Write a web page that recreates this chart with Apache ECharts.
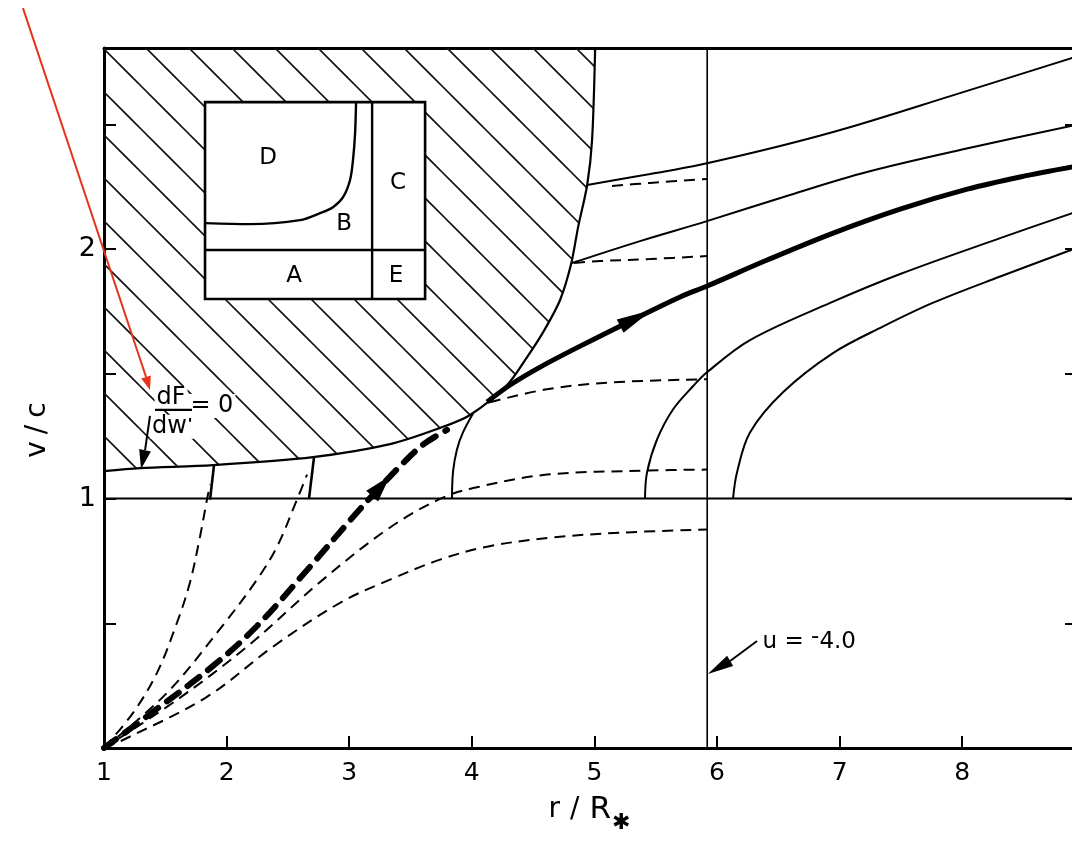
<!DOCTYPE html>
<html><head><meta charset="utf-8">
<script src="https://cdn.jsdelivr.net/npm/echarts@6.0.0/dist/echarts.min.js"></script>
<style>html,body{margin:0;padding:0;background:#fff}#c{width:1072px;height:844px}</style>
</head><body><div id="c"></div>
<script>
const FF = "'DejaVu Sans', 'Liberation Sans', sans-serif";
const INK = '#000';
const RED = '#e8331c';

// ---- axis ticks / labels ----
const xTickLabels = [1, 2, 3, 4, 5, 6, 7, 8];
const yTickLabels = [1, 2];

// ---- curves (x = r/R*, y = v/c) ----
const boundary = [[1.000,1.110],[1.294,1.122],[1.889,1.134],[2.705,1.166],[3.333,1.218],[3.741,1.283],[3.986,1.335],[4.288,1.455],[4.451,1.567],[4.582,1.667],[4.720,1.796],[4.810,1.940],[4.867,2.088],[4.941,2.257],[4.981,2.437],[5.006,2.806]];
const hLine = [[1,1],[8.92,1]];
const vLine = [[5.92,0],[5.92,2.806]];
const dashA = [[1,0],[1.237,0.141],[1.432,0.301],[1.595,0.502],[1.701,0.663],[1.783,0.847],[1.840,0.996],[1.865,1.056]];
const solidA = [[1.865,0.996],[1.897,1.133]];
const dashB = [[1,0],[1.514,0.221],[1.971,0.493],[2.248,0.675],[2.411,0.807],[2.574,0.996],[2.656,1.096]];
const solidB = [[2.672,1.0],[2.713,1.165]];
const thickDash = [[1,0],[1.375,0.136],[1.889,0.329],[2.248,0.489],[2.656,0.713],[3.031,0.926],[3.252,1.046],[3.456,1.150],[3.619,1.222],[3.798,1.275]];
const midDash = [[1,0],[1.595,0.193],[2.166,0.406],[2.786,0.675],[3.333,0.884],[3.765,1.004],[4.067,1.048],[4.613,1.096],[5.429,1.112],[5.918,1.116]];
const lowDash = [[1,0],[1.155,0.032],[1.840,0.205],[2.378,0.406],[2.925,0.582],[3.333,0.675],[3.741,0.755],[4.124,0.807],[4.638,0.843],[5.209,0.863],[5.918,0.876]];
const dash380 = [[4.148,1.386],[4.613,1.438],[5.152,1.466],[5.918,1.478]];
const dash260 = [[4.834,1.944],[5.046,1.952],[5.453,1.960],[5.918,1.972]];
const dash182 = [[5.144,2.253],[5.453,2.265],[5.918,2.281]];
const solidTop = [[4.941,2.257],[5.455,2.301],[5.862,2.338],[6.515,2.413],[7.062,2.485],[7.903,2.613],[8.92,2.770]];
const solidSecond = [[4.817,1.944],[5.372,2.032],[5.918,2.112],[6.595,2.217],[7.223,2.309],[8.064,2.406],[8.92,2.497]];
const thickSolid = [[4.125,1.387],[4.312,1.455],[4.557,1.527],[4.884,1.611],[5.308,1.715],[5.699,1.808],[5.920,1.852],[6.409,1.956],[6.948,2.064],[7.494,2.160],[8.041,2.240],[8.473,2.289],[8.92,2.331]];
const arcC = [[3.838,1.0],[3.847,1.108],[3.879,1.197],[3.928,1.265],[4.010,1.341]];
const arc5 = [[5.413,1.0],[5.429,1.104],[5.511,1.237],[5.641,1.357],[5.804,1.450],[5.918,1.506],[6.269,1.635],[6.923,1.784],[7.494,1.900],[8.310,2.044],[8.92,2.148]];
const arc6 = [[6.131,1.0],[6.163,1.104],[6.269,1.265],[6.538,1.426],[6.946,1.583],[7.356,1.690],[7.764,1.785],[8.310,1.890],[8.92,2.002]];

// ---- inset diagram ----
const insetBox = [[1.824,1.800,3.619,2.589]];
const insetDivV = [[3.187,1.800],[3.187,2.589]];
const insetDivH = [[1.824,1.996],[3.619,1.996]];
const insetCurve = [[1.824,2.104],[2.191,2.100],[2.599,2.116],[2.762,2.144],[2.868,2.168],[2.950,2.208],[3.007,2.277],[3.031,2.357],[3.048,2.465],[3.056,2.589]];
const insetLabels = [['D',2.338,2.365],['B',2.958,2.100],['C',3.399,2.265],['A',2.550,1.892],['E',3.382,1.892]];

// ---- annotations ----
const dfTexts = [["dF",1.547,1.403],["dw'",1.560,1.288],["= 0",1.880,1.371]];
const dfBar = [[1.416,1.355],[1.718,1.355]];
const dfShaft = [[1.375,1.331],[1.335,1.194]];
const uText = ['u = -4.0', 6.368, 0.425];
const uShaft = [[6.327,0.429],[6.107,0.349]];
const redShaft = [[0.339,2.966],[1.343,1.487]];
// arrowheads: tail point, tip point, width(px)
const arrowHeads = [
  {tail:[5.210,1.691], tip:[5.471,1.756], w:15, color:INK},
  {tail:[3.187,1.010], tip:[3.333,1.090], w:16, color:INK},
  {tail:[1.335,1.194], tip:[1.302,1.118], w:12, color:INK},
  {tail:[6.107,0.349], tip:[5.925,0.297], w:12, color:INK},
  {tail:[1.343,1.487], tip:[1.375,1.435], w:10, color:RED}
];

function hatchCanvas(s, c0, lw) {
  const cv = document.createElement('canvas');
  cv.width = s; cv.height = s;
  const g = cv.getContext('2d');
  g.strokeStyle = '#111'; g.lineWidth = lw;
  for (let k = -3; k <= 3; k++) {
    g.beginPath();
    g.moveTo(-s, -s + c0 + k * s);
    g.lineTo(2 * s, 2 * s + c0 + k * s);
    g.stroke();
  }
  return cv;
}

function line(id, data, width, type, extra) {
  const base = {
    id, type: 'line', data, symbol: 'none', showSymbol: false, smooth: 0.35,
    lineStyle: {color: INK, width, type: type || 'solid', cap: 'butt'},
    z: 3, silent: true, animation: false
  };
  return Object.assign(base, extra || {});
}

function textSeries(id, items, label) {
  return {id, type: 'scatter', z: 7, silent: true, animation: false,
    symbolSize: 1, itemStyle: {color: 'transparent', opacity: 1},
    data: items.map(l => ({name: l[0], value: [l[1], l[2]]})),
    label: Object.assign({show: true, opacity: 1, fontFamily: FF, color: INK}, label)};
}

const chart = echarts.init(document.getElementById('c'), null, {renderer: 'canvas'});

const option = {
  backgroundColor: '#fff',
  animation: false,
  grid: {left: 104, top: 48, width: 971, height: 700, containLabel: false, outerBoundsMode: 'none'},
  xAxis: [
    {type: 'value', min: 1, max: 8.92, interval: 1, position: 'bottom',
     axisLine: {show: true, onZero: false, lineStyle: {color: INK, width: 3}},
     axisTick: {show: true, inside: true, length: 12, lineStyle: {color: INK, width: 2}},
     axisLabel: {fontSize: 25, margin: 13, fontFamily: FF, color: INK,
       formatter: v => xTickLabels.includes(v) ? String(v) : ''},
     splitLine: {show: false},
     name: '{a|r}{b|/}{c|R}{s|✱}', nameLocation: 'middle', nameGap: 38,
     nameTextStyle: {fontFamily: FF, color: INK, fontSize: 28,
       rich: {a: {fontFamily: FF, fontSize: 28, color: INK},
              b: {fontFamily: FF, fontSize: 28, color: INK, padding: [0, 10, 0, 10]},
              c: {fontFamily: FF, fontSize: 31, color: INK},
              s: {fontFamily: FF, fontSize: 22, color: INK, fontWeight: 'bold', padding: [26, 0, 0, 1]}}}},
    {type: 'value', min: 1, max: 8.92, position: 'top',
     axisLine: {show: true, onZero: false, lineStyle: {color: INK, width: 3}},
     axisTick: {show: false}, axisLabel: {show: false}, splitLine: {show: false}}
  ],
  yAxis: [
    {type: 'value', min: 0, max: 2.806, interval: 0.5, position: 'left',
     axisLine: {show: true, onZero: false, lineStyle: {color: INK, width: 3}},
     axisTick: {show: true, inside: true, length: 12, lineStyle: {color: INK, width: 2}},
     axisLabel: {fontSize: 27, margin: 8, fontFamily: FF, color: INK,
       formatter: v => yTickLabels.includes(v) ? String(v) : ''},
     splitLine: {show: false},
     name: '{a|v}{b|/}{a|c}', nameLocation: 'middle', nameRotate: 90, nameGap: 52,
     nameTextStyle: {fontFamily: FF, color: INK, fontSize: 28, padding: [0, 64, 0, 0],
       rich: {a: {fontFamily: FF, fontSize: 28, color: INK},
              b: {fontFamily: FF, fontSize: 28, color: INK, padding: [0, 7, 0, 7]}}}},
    {type: 'value', min: 0, max: 2.806, interval: 0.5, position: 'right',
     axisLine: {show: true, onZero: false, lineStyle: {color: INK, width: 3}},
     axisTick: {show: true, inside: true, length: 10, lineStyle: {color: INK, width: 2}},
     axisLabel: {show: false}, splitLine: {show: false}}
  ],
  series: [
    line('boundary', boundary, 2.2, 'solid', {z: 2, smooth: 0.3,
      areaStyle: {color: {image: hatchCanvas(43, 31, 1.6), repeat: 'repeat'}, origin: 'end', opacity: 1}}),
    line('hline', hLine, 2, 'solid', {smooth: false}),
    line('vline', vLine, 1.6, 'solid', {smooth: false}),
    line('dashA', dashA, 2, [11, 7]),
    line('solidA', solidA, 2.6, 'solid', {smooth: false}),
    line('dashB', dashB, 2, [11, 7]),
    line('solidB', solidB, 2.6, 'solid', {smooth: false}),
    line('thickDash', thickDash, 6, [15, 11], {lineStyle: {color: INK, width: 6, type: [15, 11], cap: 'round'}}),
    line('midDash', midDash, 2, [11, 7]),
    line('lowDash', lowDash, 2, [11, 7]),
    line('dash380', dash380, 2, [11, 7]),
    line('dash260', dash260, 2, [11, 7]),
    line('dash182', dash182, 2, [11, 7]),
    line('solidTop', solidTop, 2),
    line('solidSecond', solidSecond, 2),
    line('thickSolid', thickSolid, 5),
    line('arcC', arcC, 2),
    line('arc5', arc5, 2),
    line('arc6', arc6, 2),
    {id: 'insetBox', type: 'custom', z: 5, silent: true, animation: false,
     data: insetBox, encode: {x: [0, 2], y: [1, 3]},
     renderItem: (params, api) => {
       const p1 = api.coord([api.value(0), api.value(1)]);
       const p2 = api.coord([api.value(2), api.value(3)]);
       return {type: 'rect',
         shape: {x: Math.min(p1[0], p2[0]), y: Math.min(p1[1], p2[1]),
                 width: Math.abs(p2[0] - p1[0]), height: Math.abs(p2[1] - p1[1])},
         style: {fill: '#fff', stroke: INK, lineWidth: 2.6}};
     }},
    line('insetDivV', insetDivV, 2.4, 'solid', {smooth: false, z: 6}),
    line('insetDivH', insetDivH, 2.4, 'solid', {smooth: false, z: 6}),
    line('insetCurve', insetCurve, 2.4, 'solid', {z: 6, smooth: 0.3}),
    textSeries('insetLabels', insetLabels, {position: 'inside', formatter: '{b}', fontSize: 23,
       align: 'center', verticalAlign: 'middle'}),
    textSeries('dfText', dfTexts, {position: 'inside', formatter: '{b}', fontSize: 24,
       align: 'center', verticalAlign: 'middle', backgroundColor: '#fff', padding: [0, 2]}),
    line('dfBar', dfBar, 2.2, 'solid', {smooth: false, z: 8}),
    line('dfShaft', dfShaft, 2, 'solid', {smooth: false, z: 8}),
    textSeries('uText', [uText], {position: 'right', distance: 0,
       formatter: '{t|u = }{m|-}{t|4.0}',
       rich: {t: {fontFamily: FF, fontSize: 23, color: INK},
              m: {fontFamily: FF, fontSize: 23, color: INK, padding: [0, 0, 10, 0]}}}),
    line('uShaft', uShaft, 2, 'solid', {smooth: false, z: 8}),
    {id: 'arrows', type: 'scatter', z: 9, silent: true, animation: false, clip: false,
     symbol: 'path://M0,0 L10,30 L-10,30 Z', itemStyle: {opacity: 1}, data: []}
  ]
};

chart.setOption(option);

const toPx = p => chart.convertToPixel({xAxisIndex: 0, yAxisIndex: 0}, p);
const arrowData = arrowHeads.map(a => {
  const p0 = toPx(a.tail), p1 = toPx(a.tip);
  const dx = p1[0] - p0[0], dy = p1[1] - p0[1];
  const len = Math.hypot(dx, dy);
  const ang = Math.atan2(-dy, dx) * 180 / Math.PI;
  return {value: [(a.tail[0] + a.tip[0]) / 2, (a.tail[1] + a.tip[1]) / 2],
          symbolSize: [a.w, len], symbolRotate: ang - 90,
          itemStyle: {color: a.color, opacity: 1}};
});
const r0 = toPx(redShaft[0]), r1 = toPx(redShaft[1]);
chart.setOption({
  series: [{id: 'arrows', data: arrowData}],
  graphic: [{type: 'line', z: 100, silent: true,
    shape: {x1: r0[0], y1: r0[1], x2: r1[0], y2: r1[1]},
    style: {stroke: RED, lineWidth: 2}}]
});
</script></body></html>
